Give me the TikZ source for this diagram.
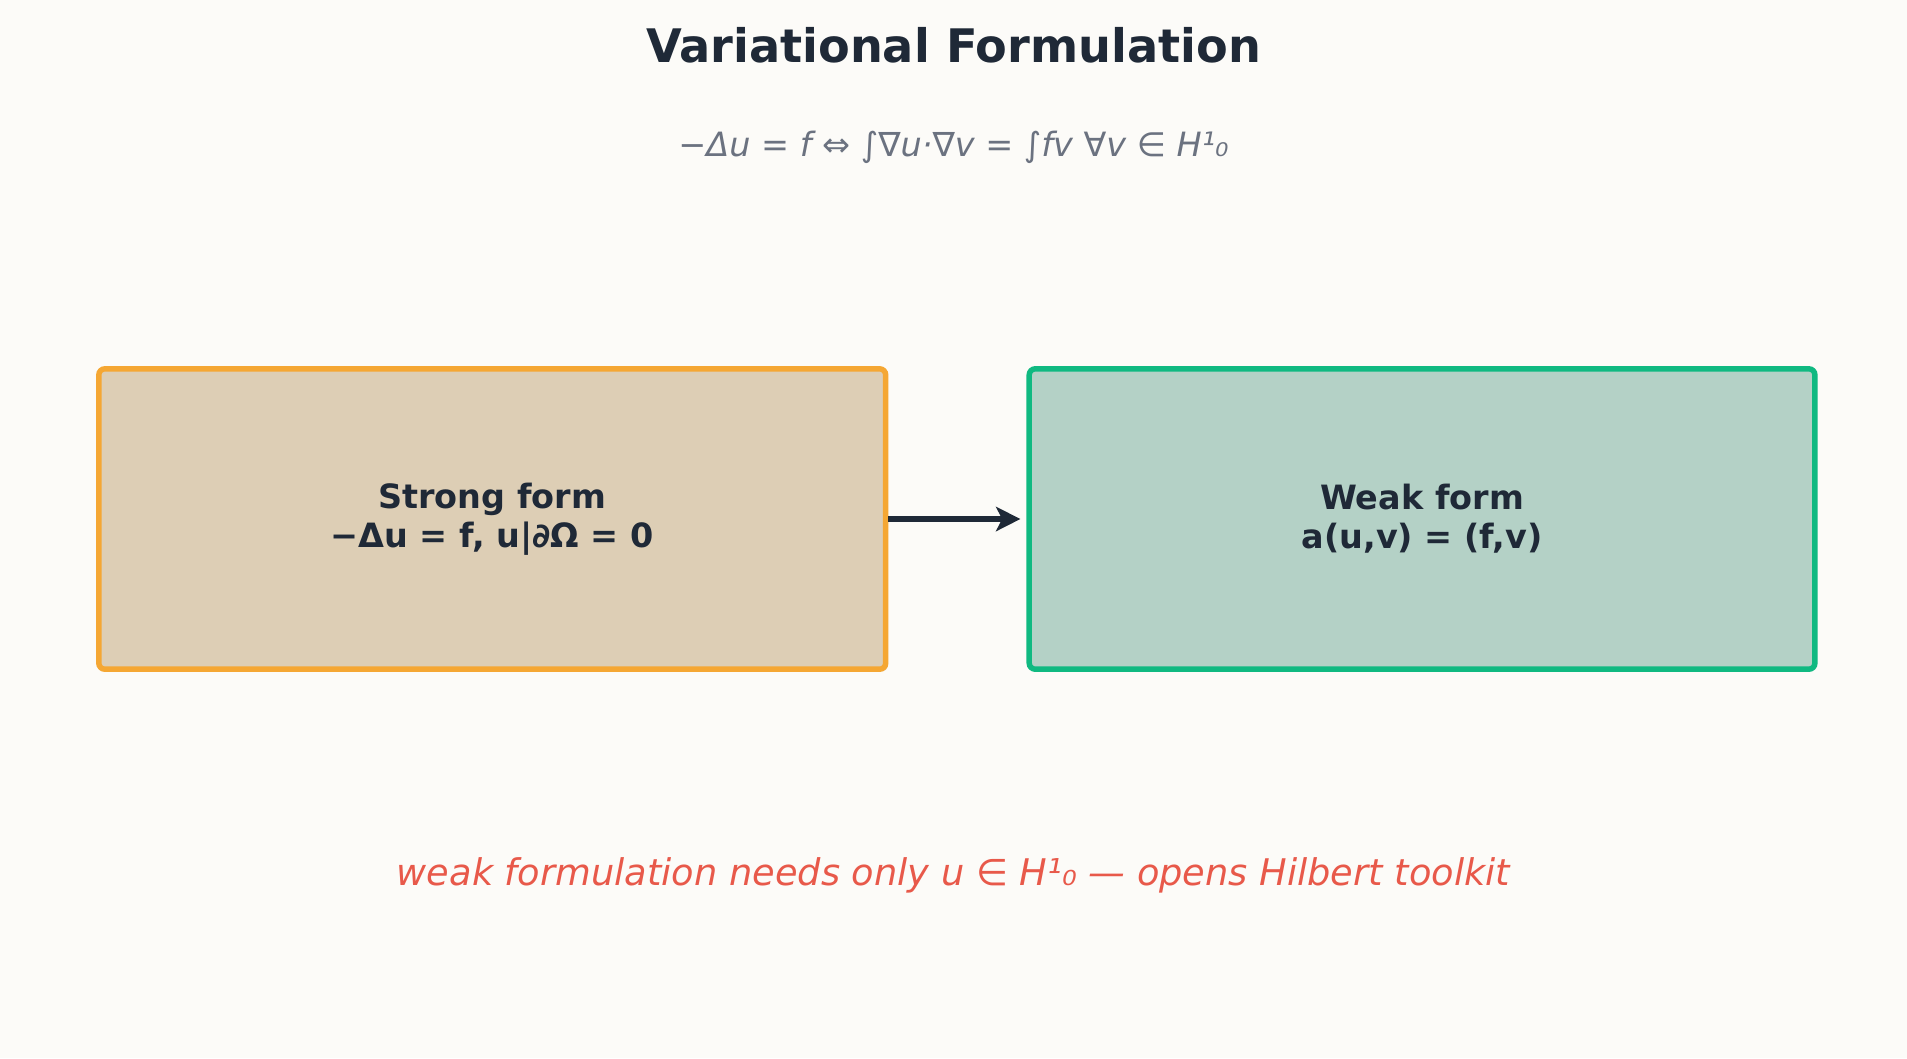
\documentclass[tikz,border=0pt]{standalone}
\usepackage{fontspec}
\setmainfont{DejaVu Sans}
\usetikzlibrary{arrows.meta}
\definecolor{bg}{HTML}{FCFBF8}
\definecolor{ink}{HTML}{1F2937}
\definecolor{gray}{HTML}{6B7280}
\definecolor{redt}{HTML}{E8594A}
\definecolor{orb}{HTML}{F5A733}
\definecolor{orf}{HTML}{DDCEB5}
\definecolor{grb}{HTML}{10B981}
\definecolor{grf}{HTML}{B4D1C6}
\tikzset{
 box/.style={rounded corners=5pt,line width=4.5pt,minimum width=647pt,minimum height=247pt,anchor=north west,align=center,font=\fontsize{27.5}{32}\selectfont\bfseries,text=ink},
 shadow/.style={fill=black!8,rounded corners=5pt}
}
\begin{document}
\begin{tikzpicture}[x=1pt,y=-1pt]
\fill[bg] (0,0) rectangle (1568,870);
\useasboundingbox (0,0) rectangle (1568,870);
\node[font=\fontsize{38}{42}\selectfont\bfseries,text=ink] (title) at (784,37) {Variational Formulation};
\node[font=\fontsize{27.5}{32}\selectfont\itshape,text=gray] (sub) at (784,121) {−Δu = f ⇔ ∫∇u·∇v = ∫fv ∀v ∈ H¹₀};
\fill[shadow] (82,304) rectangle (730,552);
\fill[shadow] (847,304) rectangle (1494,552);
\node[box,draw=orb,fill=orf] (s) at (79,301) {Strong form\\−Δu = f, u|∂Ω = 0};
\node[box,draw=grb,fill=grf,minimum width=646pt] (w) at (844,301) {Weak form\\a(u,v) = (f,v)};
\draw[ink,line width=5pt,-{Stealth[length=20pt,width=20pt,inset=5pt]}] (s.east) -- ([xshift=-5pt]w.west);
\node[font=\fontsize{30.2}{35}\selectfont\itshape,text=redt] (note) at (784,720) {weak formulation needs only u ∈ H¹₀ — opens Hilbert toolkit};
\end{tikzpicture}
\end{document}
